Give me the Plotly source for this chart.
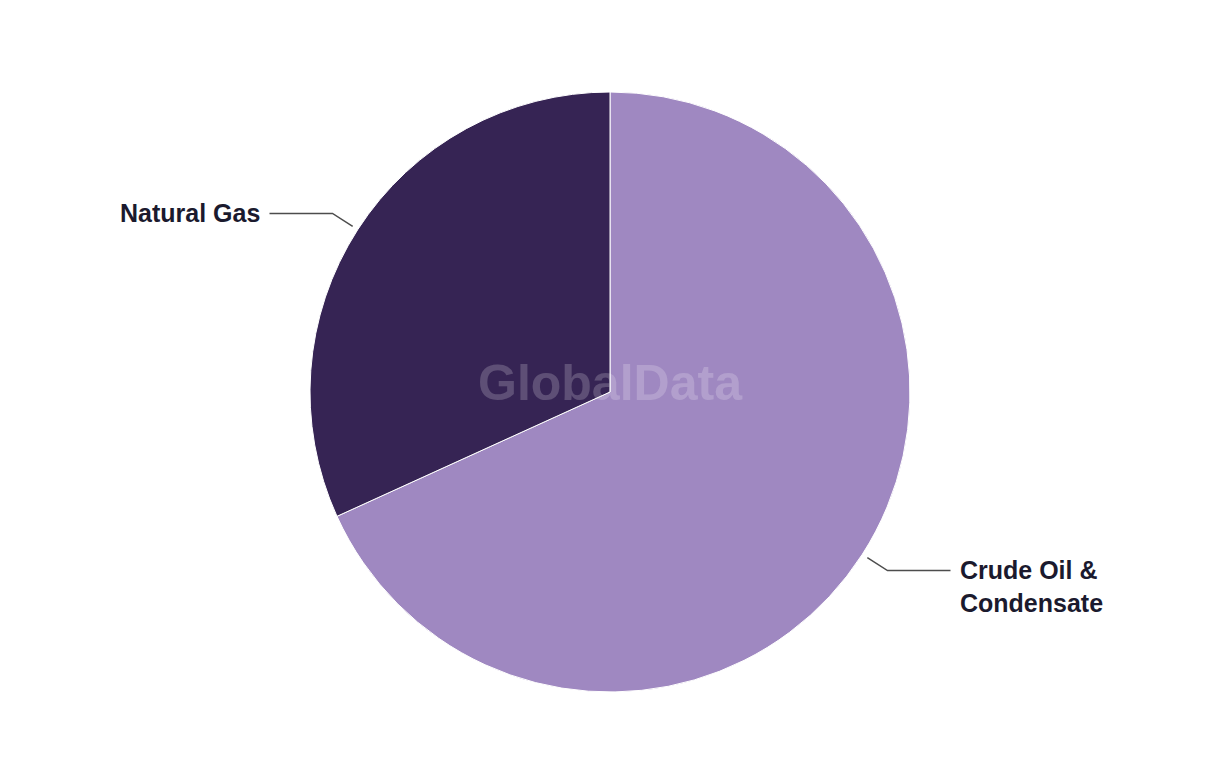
import math
import plotly.graph_objects as go

labels = ["Crude Oil &<br>Condensate", "Natural Gas"]
values = [68.2, 31.8]
colors = ["#9f88c1", "#362454"]

W, H = 1220, 764
OFF = 8  # default page body margin
cx, cy, R = 610 - OFF, 392 - OFF, 300  # pie centre/radius in figure pixels (from top)

fig = go.Figure()
fig.add_trace(go.Pie(
    labels=labels, values=values, sort=False, direction="clockwise", rotation=0,
    marker=dict(colors=colors, line=dict(color="white", width=1)),
    textinfo="none", hoverinfo="label+percent", showlegend=False,
    domain=dict(x=[(cx - R) / W, (cx + R) / W], y=[(H - cy - R) / H, (H - cy + R) / H]),
))

total = sum(values)
cum = 0
annotations = []
for lab, v in zip(labels, values):
    mid = (cum + v / 2) / total * 2 * math.pi
    cum += v
    sx, sy = math.sin(mid), -math.cos(mid)
    p1 = (cx + sx * R * 1.02, cy + sy * R * 1.02)
    p2 = (cx + sx * R * 1.10, cy + sy * R * 1.10)
    side = 1 if sx > 0 else -1
    p3 = (p2[0] + side * 63, p2[1])
    fig.add_trace(go.Scatter(
        x=[p1[0], p2[0], p3[0]], y=[p1[1], p2[1], p3[1]], mode="lines",
        line=dict(color="#4d4d4d", width=1.5), hoverinfo="skip", showlegend=False,
    ))
    nlines = lab.count("<br>") + 1
    annotations.append(dict(
        x=p3[0] + side * 7, y=p2[1] + (nlines - 1) * 15.5, xref="x", yref="y",
        text="<b>" + lab + "</b>", showarrow=False,
        xanchor="left" if side > 0 else "right", yanchor="middle", align="left",
        font=dict(family="Liberation Sans, Arial, sans-serif", size=25, color="#1b1a2e"),
    ))

annotations.append(dict(
    x=cx, y=cy - 9, xref="x", yref="y", text="<b>GlobalData</b>", showarrow=False,
    font=dict(family="Liberation Sans, Arial, sans-serif", size=50, color="rgba(255,255,255,0.2)"),
))

fig.update_layout(
    width=W, height=H, margin=dict(l=0, r=0, t=0, b=0),
    paper_bgcolor="white", plot_bgcolor="rgba(0,0,0,0)",
    xaxis=dict(range=[0, W], visible=False, domain=[0, 1], fixedrange=True),
    yaxis=dict(range=[H, 0], visible=False, domain=[0, 1], fixedrange=True),
    annotations=annotations,
)
fig.write_html("out.html")
